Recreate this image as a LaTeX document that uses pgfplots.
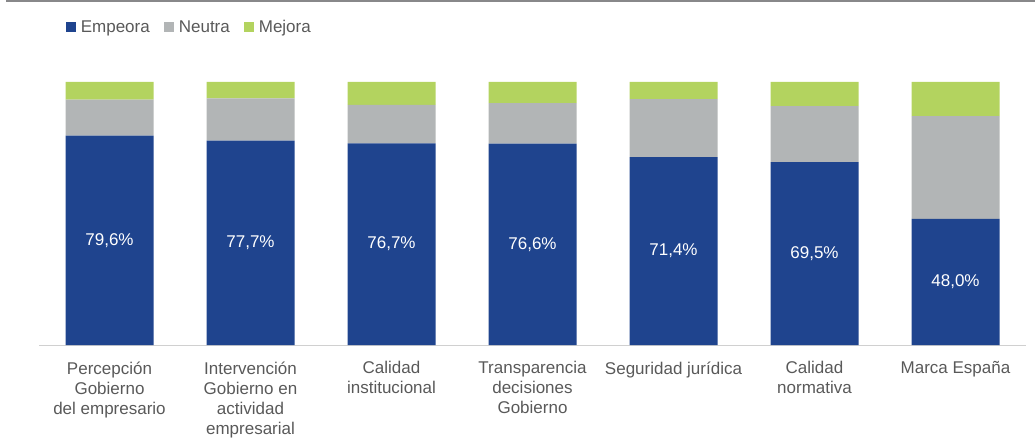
\documentclass[border=0pt]{standalone}
\usepackage{fontspec}
\setmainfont{Liberation Sans}
\usepackage{pgfplots}
\pgfplotsset{compat=1.18}
\definecolor{empeora}{HTML}{1F448E}
\definecolor{neutra}{HTML}{B2B5B6}
\definecolor{mejora}{HTML}{B3D35F}
\definecolor{txt}{HTML}{595959}
\definecolor{axisline}{HTML}{D0D0D0}
\definecolor{topline}{HTML}{88888A}
\begin{document}
\begin{tikzpicture}[x=1pt,y=1pt]
\useasboundingbox (0,0) rectangle (1035,447);
\draw[topline, line width=2.5pt] (6,446) -- (1035,446);
\begin{axis}[
    at={(39pt,102pt)}, anchor=south west,
    scale only axis, width=987pt, height=263pt,
    xmin=-0.5, xmax=6.5, ymin=0, ymax=100,
    ybar stacked, bar width=88pt,
    axis x line*=bottom, axis y line=none,
    x axis line style={axisline, line width=1pt, -},
    xtick={0,...,6}, xtick style={draw=none},
    xticklabels={Percepción\\Gobierno\\del empresario,
                 Intervención\\Gobierno en\\actividad\\empresarial,
                 Calidad\\institucional,
                 Transparencia\\decisiones\\Gobierno,
                 Seguridad jurídica,
                 Calidad\\normativa,
                 Marca España},
    xticklabel style={font=\fontsize{17}{20}\selectfont, text=txt, align=center, anchor=north, yshift=-13pt},
    legend columns=-1,
    legend style={at={(axis description cs:0.027,1.209)}, anchor=west, draw=none, fill=none,
        inner sep=0pt, font=\fontsize{17}{20}\selectfont, text=txt,
        /tikz/every odd column/.append style={column sep=3pt},
        /tikz/every even column/.append style={column sep=12pt}},
    legend image code/.code={\fill[#1] (0pt,-5pt) rectangle (10pt,5pt);},
]
\addplot+[fill=empeora, draw=none,
    nodes near coords={\pgfmathprintnumber[fixed,fixed zerofill,precision=1,use comma,assume math mode=true]{\pgfplotspointmeta}\%},
    every node near coord/.append style={white, font=\fontsize{17}{20}\selectfont, anchor=center}]
    coordinates {(0,79.6) (1,77.7) (2,76.7) (3,76.6) (4,71.4) (5,69.5) (6,48.0)};
\addplot+[fill=neutra, draw=none]
    coordinates {(0,13.7) (1,16.1) (2,14.6) (3,15.4) (4,22.1) (5,21.3) (6,39.0)};
\addplot+[fill=mejora, draw=none]
    coordinates {(0,6.7) (1,6.2) (2,8.7) (3,8.0) (4,6.5) (5,9.2) (6,13.0)};
\legend{Empeora, Neutra, Mejora}
\end{axis}
\end{tikzpicture}
\end{document}
